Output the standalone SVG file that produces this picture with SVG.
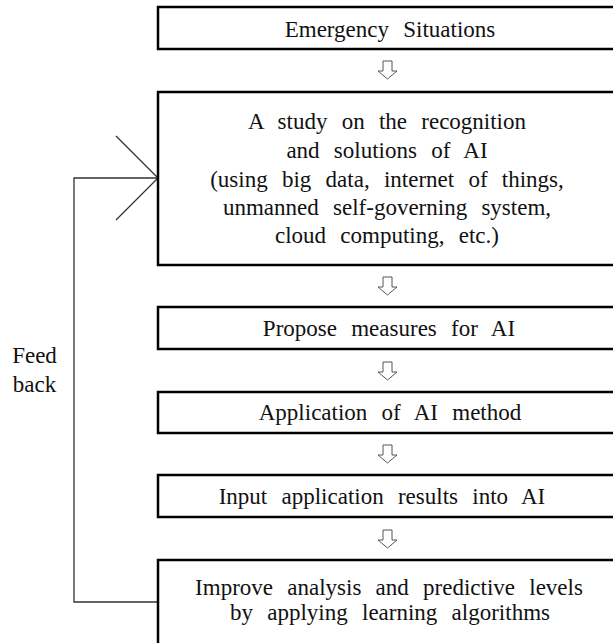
<svg xmlns="http://www.w3.org/2000/svg" width="613" height="643" viewBox="0 0 613 643">
<defs>
<style>
.box{fill:#fff;stroke:#000;stroke-width:2.5}
text{font-family:'Liberation Serif','Times New Roman','DejaVu Serif',serif;font-size:23px;fill:#111;text-anchor:middle;word-spacing:8.5px}
.arr{fill:#fff;stroke:#555;stroke-width:1}
.fb{fill:none;stroke:#333;stroke-width:1.3}
</style>
<path id="da" class="arr" d="M-4.5,0 H4.5 V10 H9.5 L0,18 L-9.5,10 H-4.5 Z"/>
</defs>
<rect width="613" height="643" fill="#fff"/>
<g id="connectors">
<use href="#da" x="387.5" y="61"/>
<use href="#da" x="387.5" y="277"/>
<use href="#da" x="387.5" y="362"/>
<use href="#da" x="387.5" y="445"/>
<use href="#da" x="387.5" y="530"/>
<polyline class="fb" points="158,602 74,602 74,178 158,178"/>
<polyline class="fb" points="116,136 158,178 116,220"/>
</g>
<g id="feedback-label">
<text x="34.5" y="363">Feed</text>
<text x="34.5" y="392">back</text>
</g>
<g id="n1">
<rect class="box" x="158" y="7" width="470" height="42"/>
<text x="390" y="37">Emergency Situations</text>
</g>
<g id="n2">
<rect class="box" x="158" y="92" width="470" height="173"/>
<text x="387" y="129">A study on the recognition</text>
<text x="387" y="158">and solutions of AI</text>
<text x="387" y="187">(using big data, internet of things,</text>
<text x="387" y="215">unmanned self-governing system,</text>
<text x="387" y="243">cloud computing, etc.)</text>
</g>
<g id="n3">
<rect class="box" x="158" y="307" width="470" height="42"/>
<text x="389" y="336">Propose measures for AI</text>
</g>
<g id="n4">
<rect class="box" x="158" y="392" width="470" height="41"/>
<text x="390" y="420">Application of AI method</text>
</g>
<g id="n5">
<rect class="box" x="158" y="475" width="470" height="42"/>
<text x="382" y="504">Input application results into AI</text>
</g>
<g id="n6">
<rect class="box" x="158" y="560" width="470" height="100"/>
<text x="389" y="595">Improve analysis and predictive levels</text>
<text x="390" y="620">by applying learning algorithms</text>
</g>
</svg>
